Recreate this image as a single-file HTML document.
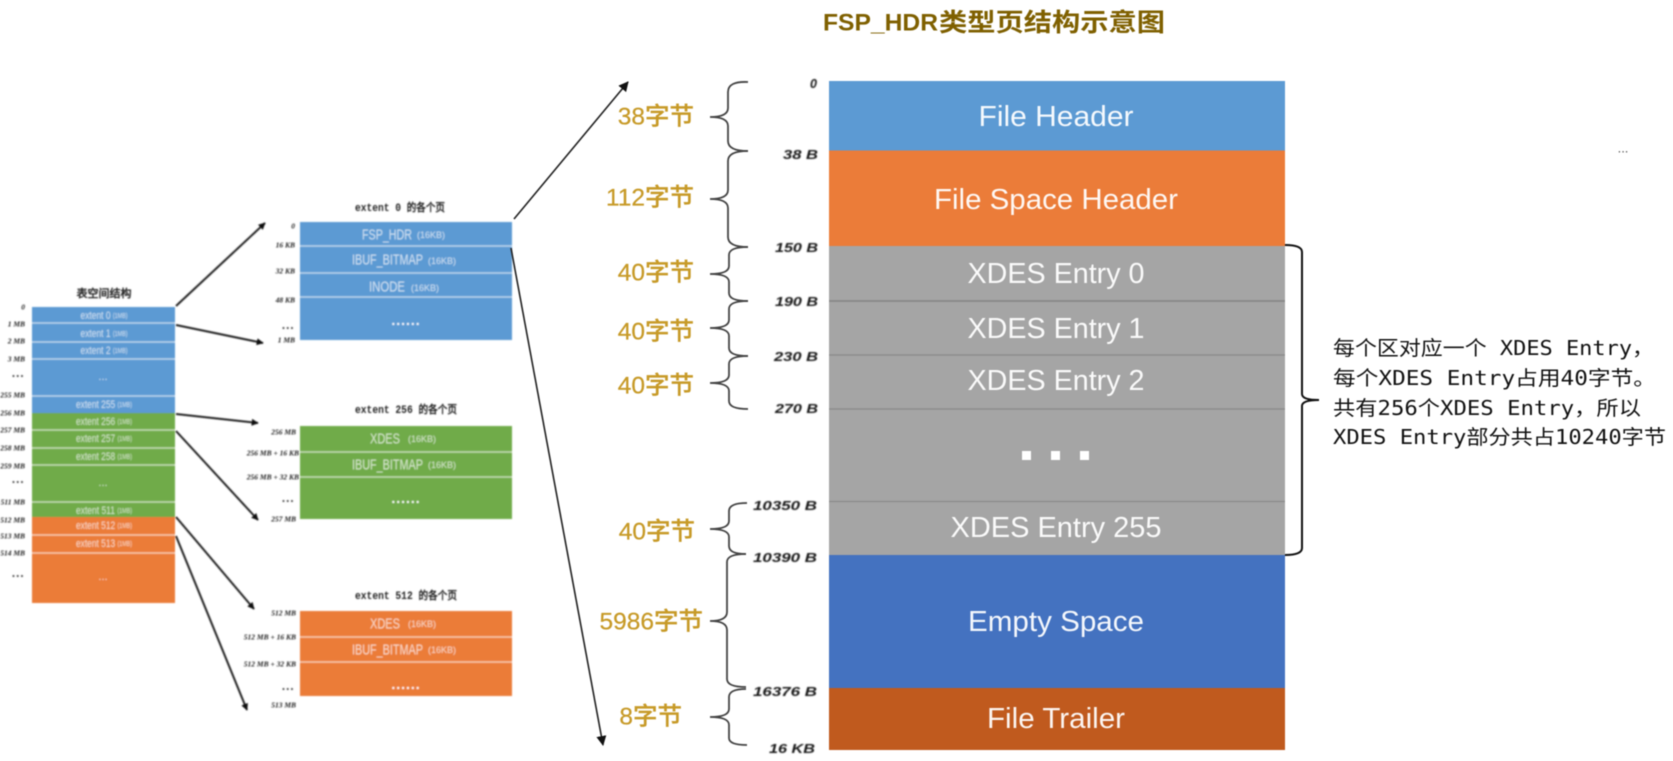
<!DOCTYPE html>
<html><head><meta charset="utf-8"><style>
html,body{margin:0;padding:0;background:#fff;width:1673px;height:761px;overflow:hidden}
svg{display:block;filter:blur(.5px)}
text{font-family:"Liberation Sans","Noto Sans CJK SC",sans-serif;dominant-baseline:central}
.m{fill:#fff;fill-opacity:.94;font-size:29px;text-anchor:middle;font-weight:normal}
.y{fill:#C79A28;font-size:24.5px;text-anchor:end;font-weight:500;stroke:#C79A28;stroke-width:.25}
.o{font-family:"Liberation Sans",sans-serif;font-style:italic;font-weight:bold;font-size:12.5px;fill:#151515;text-anchor:end}
.r{font-family:"DejaVu Sans Mono","WenQuanYi Zen Hei",monospace;font-size:20px;fill:#111}
.h{font-family:"Liberation Mono","WenQuanYi Zen Hei",monospace;font-size:11px;font-weight:bold;fill:#222}
.s{fill:#fff;fill-opacity:.72;font-size:11px;text-anchor:middle}
.s tspan{font-size:7px}
.n{fill:#fff;fill-opacity:.72;font-size:15px}
.k{fill:#fff;fill-opacity:.72;font-size:9px}
.l{font-family:"Liberation Serif",serif;font-style:italic;font-weight:bold;font-size:7.5px;fill:#222;text-anchor:end}
.d{font-family:"Liberation Sans",sans-serif;font-size:7px;fill:#333;text-anchor:end;letter-spacing:1.8px}
.b{fill:none;stroke:#444;stroke-width:1.8}
.a{stroke:#222;stroke-width:1.6;fill:none}
.t{stroke:#222;stroke-width:2;fill:none}
.w{stroke:#fff;stroke-opacity:.6;stroke-width:1.5}
</style></head><body>
<svg width="1673" height="761" viewBox="0 0 1673 761" xmlns="http://www.w3.org/2000/svg">
<defs><marker id="ah" viewBox="0 0 10 10" refX="9" refY="5" markerWidth="7" markerHeight="7" markerUnits="userSpaceOnUse" orient="auto"><path d="M0 0L10 5L0 10z" fill="#111"/></marker>
<marker id="ab" viewBox="0 0 10 10" refX="9" refY="5" markerWidth="10" markerHeight="10" markerUnits="userSpaceOnUse" orient="auto"><path d="M0 0L10 5L0 10z" fill="#111"/></marker>
<filter id="bl" filterUnits="userSpaceOnUse" x="0" y="0" width="1673" height="761"><feGaussianBlur stdDeviation=".55"/></filter></defs>

<!-- title -->
<text x="823" y="23" textLength="115" lengthAdjust="spacingAndGlyphs" font-size="24" font-weight="bold" fill="#7F6000">FSP_HDR</text>
<text x="939" y="23" textLength="226" lengthAdjust="spacingAndGlyphs" font-size="25" font-weight="bold" fill="#7F6000">类型页结构示意图</text>
<text x="1623" y="148" text-anchor="middle" font-size="13" fill="#555">...</text>

<!-- main stack -->
<rect x="829" y="81" width="456" height="69.500" fill="#5C9AD3"/>
<rect x="829" y="150.500" width="456" height="95.500" fill="#EB7C39"/>
<rect x="829" y="246" width="456" height="309" fill="#A5A5A5"/>
<rect x="829" y="555" width="456" height="133" fill="#4472C0"/>
<rect x="829" y="688" width="456" height="62" fill="#C05A1E"/>
<g stroke="#8a8a8a" stroke-width="1.2"><line x1="829" y1="301" x2="1285" y2="301" stroke-width="2"/><line x1="829" y1="355" x2="1285" y2="355"/><line x1="829" y1="409" x2="1285" y2="409"/><line x1="829" y1="501.500" x2="1285" y2="501.500"/></g>
<text class="m" x="1056" y="117" textLength="155" lengthAdjust="spacingAndGlyphs">File Header</text>
<text class="m" x="1056" y="200" textLength="244" lengthAdjust="spacingAndGlyphs">File Space Header</text>
<text class="m" x="1056" y="274" textLength="177" lengthAdjust="spacingAndGlyphs">XDES Entry 0</text>
<text class="m" x="1056" y="329" textLength="177" lengthAdjust="spacingAndGlyphs">XDES Entry 1</text>
<text class="m" x="1056" y="381" textLength="177" lengthAdjust="spacingAndGlyphs">XDES Entry 2</text>
<text class="m" x="1056" y="528" textLength="211" lengthAdjust="spacingAndGlyphs">XDES Entry 255</text>
<text class="m" x="1056" y="622" textLength="176" lengthAdjust="spacingAndGlyphs">Empty Space</text>
<text class="m" x="1056" y="719" textLength="138" lengthAdjust="spacingAndGlyphs">File Trailer</text>
<g fill="#fff"><rect x="1022" y="451" width="9" height="9"/><rect x="1051" y="451" width="9" height="9"/><rect x="1080" y="451" width="9" height="9"/></g>

<!-- byte labels -->
<text class="y" x="694" y="117">38字节</text>
<text class="y" x="694" y="198">112字节</text>
<text class="y" x="694" y="273">40字节</text>
<text class="y" x="694" y="332">40字节</text>
<text class="y" x="694" y="386">40字节</text>
<text class="y" x="695" y="532">40字节</text>
<text class="y" x="703" y="622">5986字节</text>
<text class="y" x="682" y="717">8字节</text>

<!-- braces -->
<g class="b">
<path d="M748 82Q728 81 728 92V108Q728 117 710 117Q728 117 728 126V141Q728 151 748 151"/>
<path d="M748 151Q728 151 728 161V190Q728 199 710 199Q728 199 728 208V237Q728 247 748 247"/>
<path d="M748 247Q729 247 729 255V266Q729 274 710 274Q729 274 729 282V293Q729 301 748 301"/>
<path d="M748 301Q729 301 729 309V320Q729 328 710 328Q729 328 729 336V348Q729 356 748 356"/>
<path d="M748 356Q729 356 729 364V375Q729 383 710 383Q729 383 729 391V401Q729 409 748 409"/>
<path d="M747 503Q729 503 729 511V521Q729 529 710 529Q729 529 729 537V546Q729 554 746 554"/>
<path d="M746 554Q727 554 727 562V612Q727 621 710 621Q727 621 727 630V679Q727 687 746 687"/>
<path d="M746 689Q729 689 729 697V709Q729 717 710 717Q729 717 729 725V738Q729 745 747 745"/>
</g>

<!-- offsets -->
<g filter="url(#bl)">
<text class="o" x="817" y="84">0</text>
<text class="o" x="818" y="155" textLength="35" lengthAdjust="spacingAndGlyphs">38 B</text>
<text class="o" x="818" y="248" textLength="43" lengthAdjust="spacingAndGlyphs">150 B</text>
<text class="o" x="818" y="302" textLength="43" lengthAdjust="spacingAndGlyphs">190 B</text>
<text class="o" x="818" y="357" textLength="44" lengthAdjust="spacingAndGlyphs">230 B</text>
<text class="o" x="818" y="409" textLength="43" lengthAdjust="spacingAndGlyphs">270 B</text>
<text class="o" x="817" y="506" textLength="64" lengthAdjust="spacingAndGlyphs">10350 B</text>
<text class="o" x="817" y="558" textLength="64" lengthAdjust="spacingAndGlyphs">10390 B</text>
<text class="o" x="817" y="692" textLength="64" lengthAdjust="spacingAndGlyphs">16376 B</text>
<text class="o" x="815" y="749" textLength="46" lengthAdjust="spacingAndGlyphs">16 KB</text>
</g>

<!-- right bracket and note -->
<path d="M1285 245Q1302 245 1302 252V394Q1302 400 1319 400Q1302 400 1302 406V548Q1302 555 1285 555" fill="none" stroke="#111" stroke-width="2"/>
<text class="r" x="1333" y="348" textLength="321" lengthAdjust="spacingAndGlyphs">每个区对应一个 XDES Entry，</text>
<text class="r" x="1333" y="378" textLength="323" lengthAdjust="spacingAndGlyphs">每个XDES Entry占用40字节。</text>
<text class="r" x="1333" y="408" textLength="308" lengthAdjust="spacingAndGlyphs">共有256个XDES Entry，所以</text>
<text class="r" x="1333" y="437" textLength="333" lengthAdjust="spacingAndGlyphs">XDES Entry部分共占10240字节</text>

<g filter="url(#bl)">
<!-- left stack -->
<text class="h" x="104" y="295" text-anchor="middle" textLength="55" lengthAdjust="spacingAndGlyphs">表空间结构</text>
<rect x="32" y="307" width="143" height="106" fill="#5C9AD3"/>
<rect x="32" y="413" width="143" height="104" fill="#70AB4A"/>
<rect x="32" y="517" width="143" height="86" fill="#EB7C39"/>
<g class="w"><line x1="32" x2="175" y1="323" y2="323"/><line x1="32" x2="175" y1="342" y2="342"/><line x1="32" x2="175" y1="359" y2="359"/><line x1="32" x2="175" y1="396" y2="396"/><line x1="32" x2="175" y1="430" y2="430"/><line x1="32" x2="175" y1="448" y2="448"/><line x1="32" x2="175" y1="465" y2="465"/><line x1="32" x2="175" y1="502" y2="502"/><line x1="32" x2="175" y1="535" y2="535"/><line x1="32" x2="175" y1="553" y2="553"/></g>
<text class="s" x="104" y="316" textLength="47" lengthAdjust="spacingAndGlyphs">extent 0 <tspan>(1MB)</tspan></text>
<text class="s" x="104" y="334" textLength="47" lengthAdjust="spacingAndGlyphs">extent 1 <tspan>(1MB)</tspan></text>
<text class="s" x="104" y="351" textLength="47" lengthAdjust="spacingAndGlyphs">extent 2 <tspan>(1MB)</tspan></text>
<text class="s" x="103" y="377" font-size="9">...</text>
<text class="s" x="104" y="405" textLength="56" lengthAdjust="spacingAndGlyphs">extent 255 <tspan>(1MB)</tspan></text>
<text class="s" x="104" y="422" textLength="56" lengthAdjust="spacingAndGlyphs">extent 256 <tspan>(1MB)</tspan></text>
<text class="s" x="104" y="439" textLength="56" lengthAdjust="spacingAndGlyphs">extent 257 <tspan>(1MB)</tspan></text>
<text class="s" x="104" y="457" textLength="56" lengthAdjust="spacingAndGlyphs">extent 258 <tspan>(1MB)</tspan></text>
<text class="s" x="103" y="483">...</text>
<text class="s" x="104" y="511" textLength="56" lengthAdjust="spacingAndGlyphs">extent 511 <tspan>(1MB)</tspan></text>
<text class="s" x="104" y="526" textLength="56" lengthAdjust="spacingAndGlyphs">extent 512 <tspan>(1MB)</tspan></text>
<text class="s" x="104" y="544" textLength="56" lengthAdjust="spacingAndGlyphs">extent 513 <tspan>(1MB)</tspan></text>
<text class="s" x="103" y="577">...</text>
<text class="l" x="25" y="307">0</text><text class="l" x="25" y="324">1 MB</text><text class="l" x="25" y="341">2 MB</text><text class="l" x="25" y="359">3 MB</text><text class="d" x="25" y="377">•••</text><text class="l" x="25" y="395">255 MB</text><text class="l" x="25" y="413">256 MB</text><text class="l" x="25" y="430">257 MB</text><text class="l" x="25" y="448">258 MB</text><text class="l" x="25" y="466">259 MB</text><text class="d" x="25" y="483">•••</text><text class="l" x="25" y="502">511 MB</text><text class="l" x="25" y="520">512 MB</text><text class="l" x="25" y="536">513 MB</text><text class="l" x="25" y="553">514 MB</text><text class="d" x="25" y="577">•••</text>

<!-- middle blocks -->
<text class="h" x="355" y="209" textLength="90" lengthAdjust="spacingAndGlyphs">extent 0 的各个页</text>
<rect x="300" y="222" width="212" height="118" fill="#5C9AD3"/>
<g class="w"><line x1="300" x2="512" y1="246" y2="246"/><line x1="300" x2="512" y1="273" y2="273"/><line x1="300" x2="512" y1="297" y2="297"/></g>
<text class="n" x="362" y="235" textLength="50" lengthAdjust="spacingAndGlyphs">FSP_HDR</text><text class="k" x="417" y="235">(16KB)</text>
<text class="n" x="352" y="260" textLength="71" lengthAdjust="spacingAndGlyphs">IBUF_BITMAP</text><text class="k" x="428" y="261">(16KB)</text>
<text class="n" x="369" y="287" textLength="36" lengthAdjust="spacingAndGlyphs">INODE</text><text class="k" x="411" y="288">(16KB)</text>
<text x="406" y="320" text-anchor="middle" fill="#fff" font-size="14" font-weight="bold" letter-spacing="1">......</text>
<text class="l" x="295" y="226">0</text><text class="l" x="295" y="245">16 KB</text><text class="l" x="295" y="271">32 KB</text><text class="l" x="295" y="300">48 KB</text><text class="d" x="295" y="329">•••</text><text class="l" x="295" y="340">1 MB</text>

<text class="h" x="355" y="411" textLength="102" lengthAdjust="spacingAndGlyphs">extent 256 的各个页</text>
<rect x="300" y="426" width="212" height="93" fill="#70AB4A"/>
<g class="w"><line x1="300" x2="512" y1="452" y2="452"/><line x1="300" x2="512" y1="477" y2="477"/></g>
<text class="n" x="370" y="439" textLength="30" lengthAdjust="spacingAndGlyphs">XDES</text><text class="k" x="408" y="439">(16KB)</text>
<text class="n" x="352" y="465" textLength="71" lengthAdjust="spacingAndGlyphs">IBUF_BITMAP</text><text class="k" x="428" y="465">(16KB)</text>
<text x="406" y="498" text-anchor="middle" fill="#fff" font-size="14" font-weight="bold" letter-spacing="1">......</text>
<text class="l" x="296" y="432">256 MB</text><text class="l" x="299" y="453">256 MB + 16 KB</text><text class="l" x="299" y="477">256 MB + 32 KB</text><text class="d" x="295" y="502">•••</text><text class="l" x="296" y="519">257 MB</text>

<text class="h" x="355" y="597" textLength="102" lengthAdjust="spacingAndGlyphs">extent 512 的各个页</text>
<rect x="300" y="611" width="212" height="85" fill="#EB7C39"/>
<g class="w"><line x1="300" x2="512" y1="637" y2="637"/><line x1="300" x2="512" y1="662" y2="662"/></g>
<text class="n" x="370" y="624" textLength="30" lengthAdjust="spacingAndGlyphs">XDES</text><text class="k" x="408" y="624">(16KB)</text>
<text class="n" x="352" y="650" textLength="71" lengthAdjust="spacingAndGlyphs">IBUF_BITMAP</text><text class="k" x="428" y="650">(16KB)</text>
<text x="406" y="684" text-anchor="middle" fill="#fff" font-size="14" font-weight="bold" letter-spacing="1">......</text>
<text class="l" x="296" y="613">512 MB</text><text class="l" x="296" y="637">512 MB + 16 KB</text><text class="l" x="296" y="664">512 MB + 32 KB</text><text class="d" x="295" y="690">•••</text><text class="l" x="296" y="705">513 MB</text>

<!-- arrows -->
<line class="t" x1="176" y1="306" x2="265" y2="223" marker-end="url(#ah)"/>
<line class="t" x1="176" y1="325" x2="263" y2="343" marker-end="url(#ah)"/>
<line class="t" x1="176" y1="414" x2="258" y2="423" marker-end="url(#ah)"/>
<line class="t" x1="176" y1="431" x2="258" y2="520" marker-end="url(#ah)"/>
<line class="t" x1="176" y1="517" x2="254" y2="609" marker-end="url(#ah)"/>
<line class="t" x1="176" y1="536" x2="247" y2="710" marker-end="url(#ah)"/>
</g>
<line class="a" x1="514" y1="219" x2="628" y2="82" marker-end="url(#ab)"/>
<line class="a" x1="511" y1="248" x2="603" y2="745" marker-end="url(#ab)"/>
</svg>
</body></html>
